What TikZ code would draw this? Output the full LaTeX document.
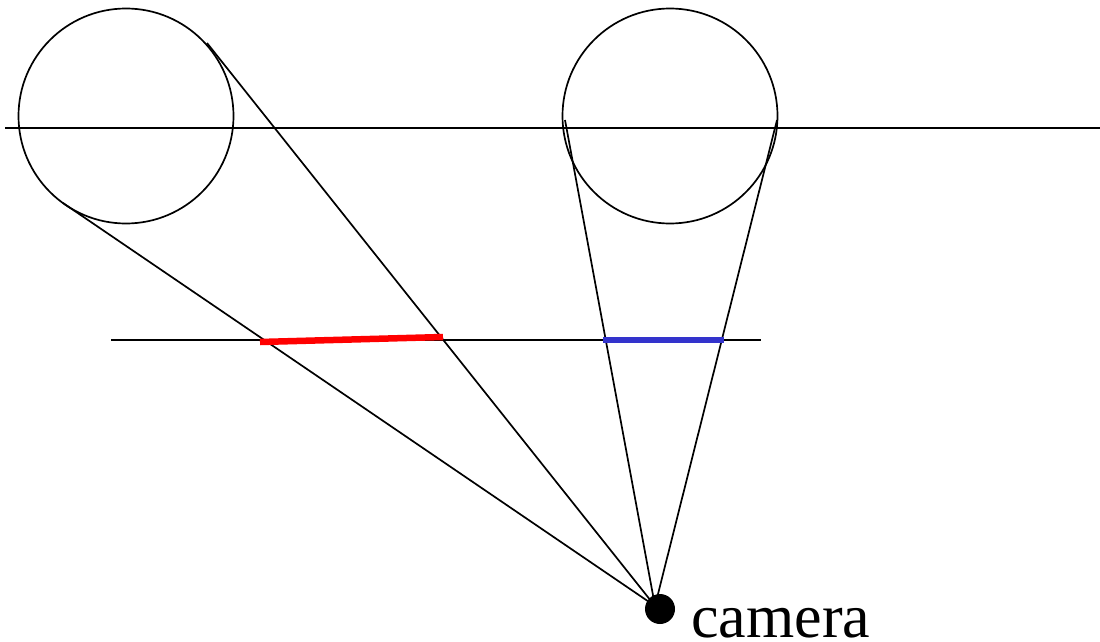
\documentclass[tikz,border=0pt]{standalone}
\usepackage{fontspec}
\setmainfont{Liberation Serif}
\begin{document}
\begin{tikzpicture}[x=1pt,y=-1pt,
  thinline/.style={black,line width=1.7pt},
  ball/.style={circle,draw=black,line width=1.7pt,inner sep=0pt,minimum size=215pt},
  redseg/.style={line width=6.5pt,color=red},
  blueseg/.style={line width=6pt,color=bluecol}]
\definecolor{bluecol}{RGB}{51,51,204}
\useasboundingbox (0,0) rectangle (1100,642);
% circles
\node[ball] (c1) at (126,116) {};
\node[ball] (c2) at (670,116) {};
% horizontal lines
\coordinate (h1a) at (5,128);
\coordinate (h1b) at (1100,128);
\draw[thinline] (h1a) -- (h1b);
\coordinate (h2a) at (111,340);
\coordinate (h2b) at (761,340);
\draw[thinline] (h2a) -- (h2b);
% tangent points and focus
\coordinate (t1) at (63,203);
\coordinate (t2) at (207,43);
\coordinate (t3) at (565,120);
\coordinate (t4) at (777,120);
\coordinate (f) at (655,606);
\draw[thinline] (t1) -- (f);
\draw[thinline] (t2) -- (f);
\draw[thinline] (t3) -- (f);
\draw[thinline] (t4) -- (f);
% image segments
\coordinate (r1) at (260,342);
\coordinate (r2) at (443,337);
\draw[redseg] (r1) -- (r2);
\coordinate (b1) at (603,340);
\coordinate (b2) at (724,340);
\draw[blueseg] (b1) -- (b2);
% camera
\node[circle,fill=black,inner sep=0pt,minimum size=30pt] (cam) at (660,609) {};
\node[anchor=base west,inner sep=0pt,font=\fontsize{62}{70}\selectfont] (camlabel) at (691,637) {camera};
\end{tikzpicture}
\end{document}
